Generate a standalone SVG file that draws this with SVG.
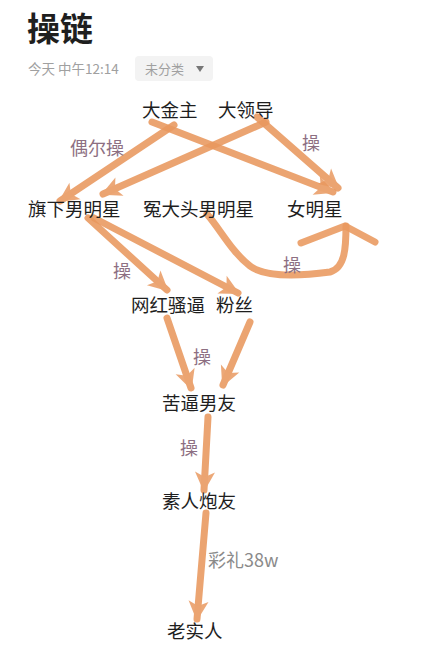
<svg xmlns="http://www.w3.org/2000/svg" width="440" height="670" viewBox="0 0 440 670">
<style>
  .t { font-family: "Noto Sans CJK SC", "Noto Sans", sans-serif; }
  .node { font-size: 18.5px; fill: #1e1e1e; }
  .lbl { font-size: 18px; fill: #8d6f82; }
  .edge { fill: none; stroke: #e9985e; stroke-width: 7; stroke-linecap: round; stroke-linejoin: round; opacity: 0.88; }
</style>
<defs>
  <marker id="ah" markerUnits="userSpaceOnUse" markerWidth="26" markerHeight="26" refX="20" refY="11" orient="auto" viewBox="0 0 26 22">
    <path d="M2,1 L22,11 L2,21 L7,11 Z" fill="#e9985e" opacity="0.95"/>
  </marker>
</defs>
<rect width="440" height="670" fill="#ffffff"/>

<g id="header" class="t">
  <text x="27" y="41" font-size="33" font-weight="bold" fill="#1f1f1f">操链</text>
  <text x="28" y="74" font-size="13.5" fill="#a0a0a0">今天 中午12:14</text>
  <rect x="135" y="56" width="78" height="25" rx="4" fill="#f3f3f3"/>
  <text x="145" y="74" font-size="13" fill="#a0a0a0">未分类</text>
  <path d="M196,66 L204,66 L200,72 Z" fill="#777"/>
</g>

<g id="connectors">
  <line class="edge" x1="152" y1="122" x2="333" y2="192" marker-end="url(#ah)"/>
  <line class="edge" x1="174" y1="125" x2="60" y2="201" marker-end="url(#ah)"/>
  <line class="edge" x1="266" y1="122" x2="103" y2="194" marker-end="url(#ah)"/>
  <line class="edge" x1="257" y1="117" x2="338" y2="188" marker-end="url(#ah)"/>
  <line class="edge" x1="88" y1="218" x2="167" y2="290" marker-end="url(#ah)"/>
  <line class="edge" x1="94" y1="218" x2="238" y2="293" marker-end="url(#ah)"/>
  <path class="edge" d="M207,214 C222,232 232,252 250,266 C266,278 300,276 330,272 C345,268 346,248 346,226"/>
  <polyline class="edge" points="301,243 345,226 375,242"/>
  <line class="edge" x1="167" y1="318" x2="191" y2="388" marker-end="url(#ah)"/>
  <line class="edge" x1="250" y1="322" x2="223" y2="385" marker-end="url(#ah)"/>
  <line class="edge" x1="208" y1="417" x2="204" y2="490" marker-end="url(#ah)"/>
  <line class="edge" x1="206" y1="513" x2="197" y2="619" marker-end="url(#ah)"/>
</g>

<g id="edge-labels" class="t">
  <text class="lbl" x="70" y="155">偶尔操</text>
  <text class="lbl" x="302" y="150">操</text>
  <text class="lbl" x="113" y="278">操</text>
  <text class="lbl" x="283" y="272">操</text>
  <text class="lbl" x="193" y="364">操</text>
  <text class="lbl" x="180" y="455">操</text>
  <text x="208" y="567" font-size="18" fill="#8a8a8a">彩礼38w</text>
</g>

<g id="n-dajinzhu" class="t"><text class="node" x="142" y="117">大金主</text></g>
<g id="n-dalingdao" class="t"><text class="node" x="218" y="117">大领导</text></g>
<g id="n-qixia" class="t"><text class="node" x="28" y="216">旗下男明星</text></g>
<g id="n-yuandatou" class="t"><text class="node" x="143" y="216">冤大头男明星</text></g>
<g id="n-nvmingxing" class="t"><text class="node" x="287" y="216">女明星</text></g>
<g id="n-wanghong" class="t"><text class="node" x="131" y="312">网红骚逼</text></g>
<g id="n-fensi" class="t"><text class="node" x="216" y="312">粉丝</text></g>
<g id="n-kubi" class="t"><text class="node" x="162" y="410">苦逼男友</text></g>
<g id="n-suren" class="t"><text class="node" x="162" y="508">素人炮友</text></g>
<g id="n-laoshiren" class="t"><text class="node" x="167" y="638">老实人</text></g>
</svg>
